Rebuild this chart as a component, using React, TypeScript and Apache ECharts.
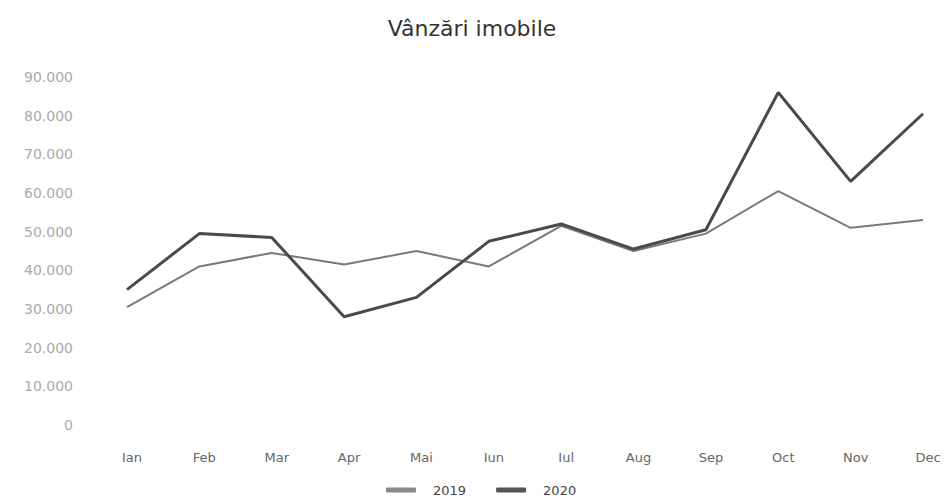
import React, { useEffect, useRef } from "react";
import * as echarts from "echarts";

const months = ["Ian", "Feb", "Mar", "Apr", "Mai", "Iun", "Iul", "Aug", "Sep", "Oct", "Nov", "Dec"];
const sales2019 = [30500, 41000, 44500, 41500, 45000, 41000, 51500, 45000, 49500, 60500, 51000, 53000];
const sales2020 = [35000, 49500, 48500, 28000, 33000, 47500, 52000, 45500, 50500, 86000, 63000, 80500];
const yTicks = { min: 0, max: 90000, interval: 10000 };

const fmt = (v: number) => (v === 0 ? "0" : (v / 1000).toFixed(0) + ".000");
const FONT = "DejaVu Sans";

export default function App() {
  const ref = useRef<HTMLDivElement>(null);
  useEffect(() => {
    if (!ref.current) return;
    const chart = echarts.init(ref.current, undefined, { renderer: "svg" });
    chart.setOption({
      animation: false,
      backgroundColor: "#fff",
      title: {
        text: "Vânzări imobile",
        left: "center",
        top: 12,
        textStyle: { fontFamily: FONT, fontSize: 22, fontWeight: "normal", color: "#333" },
      },
      legend: {
        top: 483,
        left: 386,
        itemWidth: 30,
        itemHeight: 5,
        itemGap: 30,
        padding: 0,
        icon: "roundRect",
        textStyle: { fontFamily: FONT, fontSize: 13, lineHeight: 14, color: "#444", padding: [0, 0, 0, 12] },
        data: ["2019", "2020"],
      },
      grid: { left: 127, right: 21, top: 77, bottom: 78 },
      xAxis: {
        type: "category",
        boundaryGap: false,
        data: months,
        axisLine: { show: false },
        axisTick: { show: false },
        axisLabel: {
          margin: 26,
          padding: [0, 0, 0, 10],
          fontFamily: FONT,
          fontSize: 13,
          color: "#666",
        },
      },
      yAxis: {
        type: "value",
        min: yTicks.min,
        max: yTicks.max,
        interval: yTicks.interval,
        splitLine: { show: false },
        axisLine: { show: false },
        axisTick: { show: false },
        axisLabel: {
          margin: 54,
          formatter: fmt,
          fontFamily: FONT,
          fontSize: 14,
          color: "#aaa",
        },
      },
      series: [
        {
          name: "2019",
          type: "line",
          data: sales2019,
          symbol: "none",
          lineStyle: { color: "#7a7a7a", width: 2 },
          itemStyle: { color: "#8a8a8a" },
        },
        {
          name: "2020",
          type: "line",
          data: sales2020,
          symbol: "none",
          lineStyle: { color: "#4a4a4a", width: 3 },
          itemStyle: { color: "#555" },
        },
      ],
    });
    return () => chart.dispose();
  }, []);
  return <div ref={ref} style={{ width: 944, height: 503, position: "absolute", left: 0, top: 0 }} />;
}
